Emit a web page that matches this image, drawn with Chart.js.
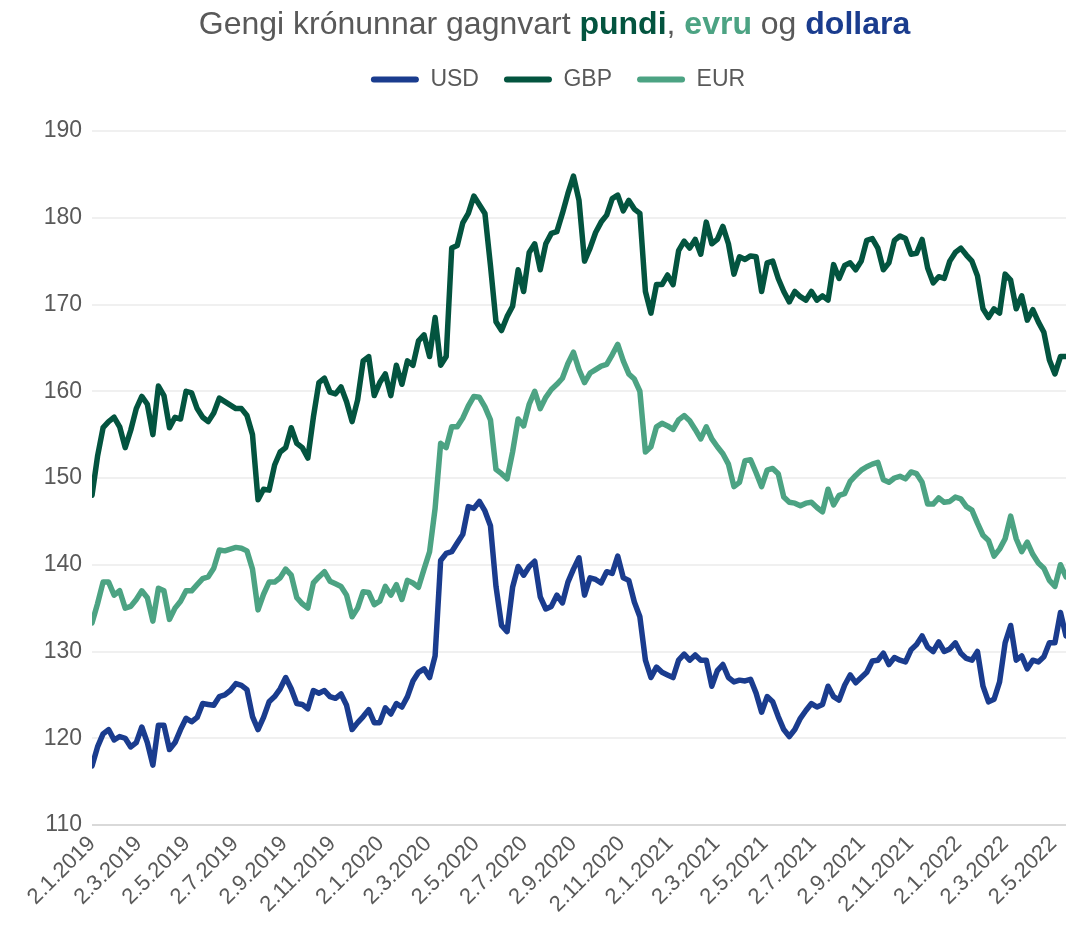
<!DOCTYPE html>
<html>
<head>
<meta charset="utf-8">
<script src="https://cdn.jsdelivr.net/npm/chart.js@4.4.0/dist/chart.umd.min.js"></script>
<style>
  html, body { margin: 0; padding: 0; background: #fff; }
  #wrap { position: relative; width: 1089px; height: 933px; }
  #title {
    position: absolute; top: 3px; left: 10px; width: 1089px;
    text-align: center; white-space: nowrap;
    font: 32px "Liberation Sans", Arial, sans-serif; line-height: 40px; color: #595959;
  }
  #title b { font-weight: bold; }
</style>
</head>
<body>
<div id="wrap">
  <div id="title">Gengi krónunnar gagnvart <b style="color:#03543F">pundi</b>, <b style="color:#4CA383">evru</b> og <b style="color:#1A3C8E">dollara</b></div>
  <canvas id="fxChart" width="1089" height="933"></canvas>
</div>
<script>
// weekly readings (d.m.yyyy)
const dates = [
  "2.1.2019","9.1.2019","16.1.2019","23.1.2019","30.1.2019","6.2.2019","13.2.2019","20.2.2019","27.2.2019",
  "6.3.2019","13.3.2019","20.3.2019","27.3.2019","3.4.2019","10.4.2019","17.4.2019","24.4.2019",
  "1.5.2019","8.5.2019","15.5.2019","22.5.2019","29.5.2019","5.6.2019","12.6.2019","19.6.2019","26.6.2019",
  "3.7.2019","10.7.2019","17.7.2019","24.7.2019","31.7.2019","7.8.2019","14.8.2019","21.8.2019","28.8.2019",
  "4.9.2019","11.9.2019","18.9.2019","25.9.2019","2.10.2019","9.10.2019","16.10.2019","23.10.2019","30.10.2019",
  "6.11.2019","13.11.2019","20.11.2019","27.11.2019","4.12.2019","11.12.2019","18.12.2019","25.12.2019",
  "1.1.2020","8.1.2020","15.1.2020","22.1.2020","29.1.2020","5.2.2020","12.2.2020","19.2.2020","26.2.2020",
  "4.3.2020","11.3.2020","18.3.2020","25.3.2020","1.4.2020","8.4.2020","15.4.2020","22.4.2020","29.4.2020",
  "6.5.2020","13.5.2020","20.5.2020","27.5.2020","3.6.2020","10.6.2020","17.6.2020","24.6.2020",
  "1.7.2020","8.7.2020","15.7.2020","22.7.2020","29.7.2020","5.8.2020","12.8.2020","19.8.2020","26.8.2020",
  "2.9.2020","9.9.2020","16.9.2020","23.9.2020","30.9.2020","7.10.2020","14.10.2020","21.10.2020","28.10.2020",
  "4.11.2020","11.11.2020","18.11.2020","25.11.2020","2.12.2020","9.12.2020","16.12.2020","23.12.2020","30.12.2020",
  "6.1.2021","13.1.2021","20.1.2021","27.1.2021","3.2.2021","10.2.2021","17.2.2021","24.2.2021",
  "3.3.2021","10.3.2021","17.3.2021","24.3.2021","31.3.2021","7.4.2021","14.4.2021","21.4.2021","28.4.2021",
  "5.5.2021","12.5.2021","19.5.2021","26.5.2021","2.6.2021","9.6.2021","16.6.2021","23.6.2021","30.6.2021",
  "7.7.2021","14.7.2021","21.7.2021","28.7.2021","4.8.2021","11.8.2021","18.8.2021","25.8.2021",
  "1.9.2021","8.9.2021","15.9.2021","22.9.2021","29.9.2021","6.10.2021","13.10.2021","20.10.2021","27.10.2021",
  "3.11.2021","10.11.2021","17.11.2021","24.11.2021","1.12.2021","8.12.2021","15.12.2021","22.12.2021","29.12.2021",
  "5.1.2022","12.1.2022","19.1.2022","26.1.2022","2.2.2022","9.2.2022","16.2.2022","23.2.2022",
  "2.3.2022","9.3.2022","16.3.2022","23.3.2022","30.3.2022","6.4.2022","13.4.2022","20.4.2022","27.4.2022",
  "4.5.2022","11.5.2022","18.5.2022"
];

const usd = [
  116.8,119.0,120.5,121.0,119.8,120.2,120.0,119.0,119.5,121.3,
  119.5,116.9,121.5,121.5,118.7,119.5,121.0,122.3,121.9,122.4,
  124.0,123.9,123.8,124.8,125.0,125.5,126.3,126.1,125.6,122.5,
  121.0,122.4,124.2,124.8,125.7,127.0,125.7,124.0,123.9,123.4,
  125.5,125.2,125.5,124.8,124.6,125.1,123.8,121.0,121.8,122.5,
  123.3,121.8,121.8,
  123.5,122.8,124.0,123.6,124.8,126.6,127.6,128.0,127.0,129.5,
  140.5,141.3,141.5,142.5,143.5,146.7,146.5,147.3,146.2,144.5,
  137.5,133.0,132.3,137.4,139.8,138.8,139.8,140.4,136.3,134.9,
  135.2,136.5,135.6,138.0,139.5,140.8,136.5,138.5,138.3,137.9,
  139.2,139.0,141.0,138.5,138.2,135.7,134.0,129.0,127.0,128.2,
  127.6,127.3,
  127.0,129.0,129.7,129.0,129.6,129.0,129.0,126.0,127.8,128.5,
  127.0,126.5,126.7,126.6,126.8,125.2,123.0,124.8,124.2,122.5,
  121.0,120.2,121.0,122.3,123.2,124.0,123.6,123.9,126.0,124.8,
  124.4,126.1,127.3,126.4,127.0,127.6,128.9,129.0,129.8,128.5,
  129.3,129.0,128.8,130.2,130.8,131.8,130.5,130.0,131.1,130.0,
  130.3,131.0,129.8,129.2,129.0,130.0,126.0,124.2,124.5,126.5,
  131.0,133.0,129.0,129.5,128.0,129.0,128.8,129.4,131.0,131.0,
  134.5,131.8
];

const gbp = [
  148.0,152.5,155.8,156.5,157.0,155.9,153.5,155.5,158.0,159.4,
  158.5,155.0,160.6,159.5,155.8,157.0,156.8,160.0,159.8,158.0,
  157.0,156.5,157.5,159.2,158.8,158.4,158.0,158.0,157.2,155.0,
  147.5,148.7,148.6,151.5,153.0,153.5,155.8,154.0,153.5,152.3,
  157.0,161.0,161.5,159.9,159.7,160.5,158.8,156.5,159.0,163.5,
  164.0,159.5,161.0,
  162.0,159.5,163.0,160.8,163.5,163.0,165.8,166.5,164.0,168.5,
  163.0,164.0,176.5,176.8,179.4,180.5,182.5,181.5,180.5,174.5,
  168.0,167.0,168.6,169.8,174.0,171.5,176.0,177.0,174.0,177.0,
  178.2,178.4,180.5,182.8,184.8,182.0,175.0,176.5,178.3,179.5,
  180.3,182.2,182.6,180.8,182.0,181.0,180.5,171.5,169.0,172.3,
  172.3,173.4,
  172.3,176.2,177.3,176.5,177.5,175.8,179.5,177.0,177.5,179.0,
  177.0,173.5,175.5,175.2,175.6,175.5,171.5,174.8,175.0,173.0,
  171.5,170.3,171.5,170.9,170.5,171.5,170.5,171.0,170.5,174.6,
  173.0,174.5,174.8,174.0,175.0,177.4,177.6,176.5,174.0,174.8,
  177.4,177.9,177.6,175.8,175.9,177.5,174.2,172.5,173.2,173.0,
  175.0,176.0,176.5,175.7,175.0,173.3,169.5,168.5,169.5,169.0,
  173.5,172.8,169.5,171.0,168.2,169.4,168.0,166.8,163.6,162.0,
  164.0,164.0
];

const eur = [
  133.3,135.5,138.0,138.0,136.5,137.0,135.0,135.2,136.0,137.0,
  136.2,133.5,137.3,137.0,133.7,135.0,135.8,137.0,137.0,137.7,
  138.4,138.6,139.6,141.7,141.6,141.8,142.0,141.9,141.6,139.5,
  134.8,136.6,138.0,138.0,138.5,139.5,138.8,136.2,135.5,135.0,
  137.9,138.6,139.2,138.1,137.8,137.5,136.5,134.0,135.0,136.9,
  136.8,135.4,135.8,
  137.5,136.5,137.7,136.0,138.2,137.9,137.4,139.5,141.5,146.5,
  154.0,153.5,155.9,155.9,156.9,158.3,159.4,159.3,158.2,156.7,
  151.0,150.5,149.9,153.0,156.8,156.0,158.5,160.0,158.0,159.3,
  160.2,160.8,161.5,163.2,164.5,162.5,161.0,162.1,162.5,162.9,
  163.1,164.2,165.4,163.5,162.0,161.4,160.0,153.0,153.6,155.9,
  156.3,156.0,
  155.6,156.7,157.2,156.6,155.6,154.5,155.9,154.5,153.6,152.8,
  151.6,149.0,149.5,152.0,152.1,150.6,149.0,150.9,151.1,150.5,
  147.8,147.2,147.1,146.8,147.1,147.2,146.6,146.1,148.7,146.9,
  148.0,148.2,149.6,150.3,150.9,151.3,151.6,151.8,149.8,149.5,
  150.0,150.2,149.9,150.7,150.5,149.5,147.0,147.0,147.7,147.2,
  147.3,147.8,147.6,146.7,146.3,144.8,143.4,142.8,141.0,141.8,
  143.0,145.6,143.0,141.5,142.6,141.2,140.2,139.6,138.2,137.5,
  140.0,138.6
];

const tickLabels = [
  "2.1.2019","2.3.2019","2.5.2019","2.7.2019","2.9.2019","2.11.2019",
  "2.1.2020","2.3.2020","2.5.2020","2.7.2020","2.9.2020","2.11.2020",
  "2.1.2021","2.3.2021","2.5.2021","2.7.2021","2.9.2021","2.11.2021",
  "2.1.2022","2.3.2022","2.5.2022"
];

const yTicks = [110, 120, 130, 140, 150, 160, 170, 180, 190];

const colUSD = "#1A3C8E";
const colGBP = "#03543F";
const colEUR = "#4CA383";
const textGrey = "#595959";

// "d.m.yyyy" -> day number
function dayOf(s) {
  const p = s.split(".");
  return Date.UTC(+p[2], +p[1] - 1, +p[0]) / 86400000;
}

const days = dates.map(dayOf);
if (usd.length !== days.length || gbp.length !== days.length || eur.length !== days.length) {
  console.error("length mismatch", days.length, usd.length, gbp.length, eur.length);
}

function series(values) {
  return values.map((v, i) => ({ x: days[i], y: v }));
}

Chart.defaults.font.family = '"Liberation Sans", Arial, sans-serif';
Chart.defaults.color = textGrey;

// fixed legend block height, and nudge the legend to the right like the original
const legendTweak = {
  id: "legendTweak",
  afterInit(chart) {
    const fit = chart.legend.fit;
    chart.legend.fit = function () {
      fit.call(this);
      this.height = 88;
    };
  },
  afterLayout(chart) {
    chart.legend.left += 25;
    chart.legend.right += 25;
  }
};

const lineStyle = {
  borderWidth: 5.5,
  pointRadius: 0,
  pointHoverRadius: 0,
  tension: 0,
  fill: false,
  borderJoinStyle: "round",
  borderCapStyle: "round"
};

const ctx = document.getElementById("fxChart").getContext("2d");
new Chart(ctx, {
  type: "line",
  data: {
    datasets: [
      Object.assign({ label: "USD", data: series(usd), borderColor: colUSD, backgroundColor: colUSD }, lineStyle),
      Object.assign({ label: "GBP", data: series(gbp), borderColor: colGBP, backgroundColor: colGBP }, lineStyle),
      Object.assign({ label: "EUR", data: series(eur), borderColor: colEUR, backgroundColor: colEUR }, lineStyle)
    ]
  },
  plugins: [legendTweak],
  options: {
    responsive: false,
    animation: false,
    layout: { padding: { top: 43, left: 0, right: 23, bottom: 0 } },
    plugins: {
      title: { display: false },
      tooltip: { enabled: false },
      legend: {
        position: "top",
        labels: {
          boxWidth: 48,
          boxHeight: 6,
          padding: 25,
          useBorderRadius: true,
          borderRadius: 3,
          color: textGrey,
          font: { size: 23 },
          generateLabels(chart) {
            return chart.data.datasets.map((ds, i) => ({
              text: ds.label,
              fillStyle: ds.borderColor,
              strokeStyle: ds.borderColor,
              lineWidth: 0,
              fontColor: textGrey,
              hidden: false,
              datasetIndex: i,
              borderRadius: 3
            }));
          }
        }
      }
    },
    scales: {
      x: {
        type: "linear",
        min: days[0],
        max: days[days.length - 1],
        afterBuildTicks(scale) {
          scale.ticks = tickLabels.map(t => ({ value: dayOf(t) }));
        },
        afterFit(scale) { scale.height = 108; },
        ticks: {
          autoSkip: false,
          minRotation: 45,
          maxRotation: 45,
          padding: 6,
          color: textGrey,
          font: { size: 22 },
          callback(value) {
            const hit = tickLabels.find(t => dayOf(t) === value);
            return hit || "";
          }
        },
        grid: { display: false, drawTicks: false },
        border: { display: false }
      },
      y: {
        min: yTicks[0],
        max: yTicks[yTicks.length - 1],
        afterBuildTicks(scale) {
          scale.ticks = yTicks.map(v => ({ value: v }));
        },
        afterFit(scale) { scale.width = 92; },
        ticks: {
          padding: 10,
          color: textGrey,
          font: { size: 23 }
        },
        grid: {
          drawTicks: false,
          lineWidth: 2,
          color: c => (c.tick && c.tick.value === 110 ? "#d9d9d9" : "#f0f0f0")
        },
        border: { display: false }
      }
    }
  }
});
</script>
</body>
</html>
